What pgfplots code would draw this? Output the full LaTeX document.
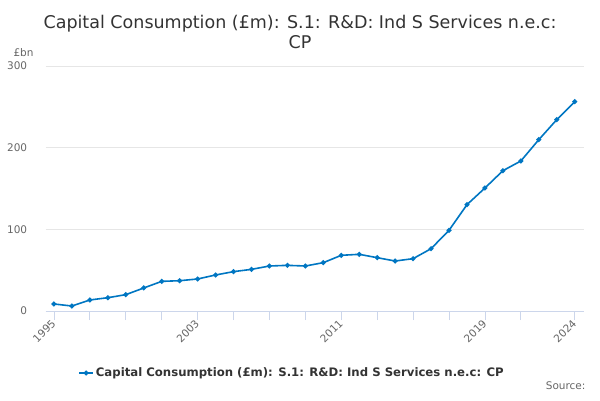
\documentclass[border=0pt]{standalone}
\usepackage{pgfplots}
\pgfplotsset{compat=1.18}
\usepackage{fontspec}
\setmainfont{DejaVu Sans}
\definecolor{series}{RGB}{0,118,194}
\definecolor{gridc}{RGB}{230,230,230}
\definecolor{axisc}{RGB}{204,214,235}
\definecolor{tickc}{RGB}{102,102,102}
\definecolor{titlec}{RGB}{51,51,51}
\begin{document}
\begin{tikzpicture}[x=1pt,y=1pt]
\useasboundingbox (0,0) rectangle (600,400);
\begin{axis}[
  at={(45.7pt,89pt)}, anchor=south west,
  scale only axis, width=538pt, height=245pt,
  xmin=1994.54, xmax=2024.5, ymin=0, ymax=300,
  axis x line*=bottom, axis y line*=left,
  separate axis lines,
  x axis line style={draw=axisc, line width=0.8pt, -},
  y axis line style={draw=none},
  xtick={1995,2003,2011,2019,2024},
  xticklabels={1995,2003,2011,2019,2024},
  minor xtick={1997,1999,2001,2005,2007,2009,2013,2015,2017,2021},
  xtick style={draw=axisc, line width=0.8pt},
  xminorgrids=false,
  major tick length=9pt, minor tick length=9pt, tick align=outside,
  xticklabel style={rotate=45, anchor=east, font=\fontsize{10.5}{12}\selectfont, text=tickc, xshift=2pt, yshift=-1pt},
  ytick={0,100,200,300},
  ytick style={draw=none},
  yticklabel style={font=\fontsize{10.5}{12}\selectfont, text=tickc, xshift=-6pt},
  /pgf/number format/assume math mode=true,
  /pgf/number format/1000 sep={},
  ymajorgrids, grid style={draw=gridc, line width=0.8pt},
  clip=false,
  legend style={at={(0.458,-0.253)}, anchor=center, draw=none, fill=none,
    font=\bfseries\fontsize{11.7}{13}\selectfont, text=titlec},
  legend image code/.code={\draw[series, line width=1.5pt] (0pt,0pt) -- (14pt,0pt); \fill[series] (7pt,0pt) circle (1.6pt);},
]
\addplot[series, line width=1.6pt, mark=*, mark size=1.6pt] coordinates {
(1995,8.6) (1996,6.1) (1997,13.5) (1998,16.3) (1999,20.0) (2000,28.2)
(2001,36.3) (2002,37.1) (2003,39.2) (2004,44.1) (2005,48.2) (2006,51.0)
(2007,55.1) (2008,55.9) (2009,55.1) (2010,59.2) (2011,68.2) (2012,69.4)
(2013,65.3) (2014,61.2) (2015,64.1) (2016,76.3) (2017,98.8) (2018,130.2)
(2019,150.6) (2020,171.8) (2021,183.7) (2022,209.8) (2023,234.3) (2024,256.3)
};
\addlegendentry{Capital Consumption (£m): S.1: R\&D: Ind S Services n.e.c: CP}
\end{axis}
\node[anchor=base, text=titlec, font=\fontsize{17.5}{20}\selectfont] at (300,371) {Capital Consumption (£m): S.1: R\&D: Ind S Services n.e.c:};
\node[anchor=base, text=titlec, font=\fontsize{17.5}{20}\selectfont] at (300,352) {CP};
\node[anchor=base west, text=tickc, font=\fontsize{10.5}{12}\selectfont] at (10,344) {£bn};
\node[anchor=base east, text=tickc, font=\fontsize{10.5}{12}\selectfont] at (589,11) {Source:};
\end{tikzpicture}
\end{document}
